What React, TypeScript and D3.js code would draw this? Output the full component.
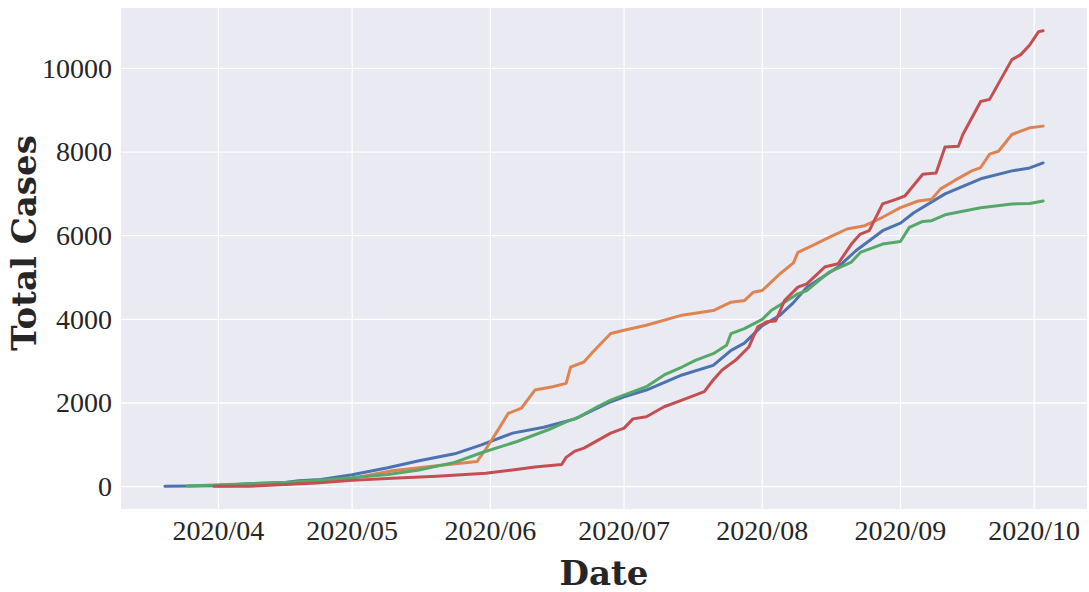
import * as d3 from "d3";

type Pt = [string, number];

// values, one [date, total] pair per point
const blue: Pt[] = [
  ["2020-03-20", 10], ["2020-03-31", 20], ["2020-04-08", 70], ["2020-04-16", 100],
  ["2020-04-19", 140], ["2020-04-24", 170], ["2020-05-01", 285], ["2020-05-09", 450],
  ["2020-05-16", 620], ["2020-05-24", 785], ["2020-05-30", 1000], ["2020-06-06", 1280],
  ["2020-06-13", 1420], ["2020-06-20", 1620], ["2020-06-28", 2030], ["2020-07-01", 2150],
  ["2020-07-06", 2310], ["2020-07-14", 2670], ["2020-07-21", 2900], ["2020-07-25", 3260],
  ["2020-07-28", 3430], ["2020-08-01", 3850], ["2020-08-05", 4100], ["2020-08-08", 4400],
  ["2020-08-11", 4770], ["2020-08-18", 5250], ["2020-08-22", 5640], ["2020-08-28", 6120],
  ["2020-09-01", 6300], ["2020-09-04", 6550], ["2020-09-11", 7000], ["2020-09-19", 7360],
  ["2020-09-26", 7550], ["2020-09-30", 7620], ["2020-10-03", 7740],
];

const orange: Pt[] = [
  ["2020-04-01", 10], ["2020-04-15", 60], ["2020-04-30", 180], ["2020-05-10", 380],
  ["2020-05-20", 500], ["2020-05-29", 600], ["2020-05-31", 900], ["2020-06-03", 1400],
  ["2020-06-05", 1750], ["2020-06-08", 1880], ["2020-06-11", 2310], ["2020-06-15", 2390],
  ["2020-06-18", 2470], ["2020-06-19", 2860], ["2020-06-22", 2980], ["2020-06-24", 3220],
  ["2020-06-28", 3660], ["2020-07-01", 3740], ["2020-07-06", 3860], ["2020-07-14", 4100],
  ["2020-07-21", 4210], ["2020-07-25", 4410], ["2020-07-28", 4450], ["2020-07-30", 4650],
  ["2020-08-01", 4690], ["2020-08-03", 4890], ["2020-08-05", 5090], ["2020-08-08", 5350],
  ["2020-08-09", 5600], ["2020-08-12", 5750], ["2020-08-16", 5960], ["2020-08-20", 6160],
  ["2020-08-24", 6240], ["2020-08-28", 6440], ["2020-09-01", 6670], ["2020-09-05", 6830],
  ["2020-09-08", 6870], ["2020-09-10", 7120], ["2020-09-13", 7310], ["2020-09-17", 7550],
  ["2020-09-19", 7630], ["2020-09-21", 7950], ["2020-09-23", 8020], ["2020-09-26", 8420],
  ["2020-09-30", 8580], ["2020-10-03", 8620],
];

const green: Pt[] = [
  ["2020-03-25", 15], ["2020-04-08", 70], ["2020-04-16", 100], ["2020-04-23", 150],
  ["2020-05-01", 210], ["2020-05-09", 290], ["2020-05-16", 400], ["2020-05-24", 580],
  ["2020-05-30", 810], ["2020-06-07", 1080], ["2020-06-14", 1360], ["2020-06-18", 1550],
  ["2020-06-21", 1670], ["2020-06-25", 1910], ["2020-06-28", 2070], ["2020-07-06", 2390],
  ["2020-07-10", 2670], ["2020-07-14", 2860], ["2020-07-17", 3020], ["2020-07-21", 3180],
  ["2020-07-24", 3380], ["2020-07-25", 3660], ["2020-07-28", 3780], ["2020-08-01", 4000],
  ["2020-08-03", 4210], ["2020-08-09", 4610], ["2020-08-11", 4690], ["2020-08-16", 5130],
  ["2020-08-21", 5370], ["2020-08-23", 5600], ["2020-08-28", 5800], ["2020-09-01", 5860],
  ["2020-09-03", 6200], ["2020-09-06", 6340], ["2020-09-08", 6360], ["2020-09-11", 6500],
  ["2020-09-19", 6670], ["2020-09-26", 6760], ["2020-09-30", 6770], ["2020-10-03", 6830],
];

const red: Pt[] = [
  ["2020-03-31", 10], ["2020-04-08", 10], ["2020-04-16", 50], ["2020-04-23", 90],
  ["2020-05-01", 150], ["2020-05-10", 200], ["2020-05-20", 250], ["2020-05-31", 320],
  ["2020-06-06", 400], ["2020-06-11", 470], ["2020-06-17", 530], ["2020-06-18", 700],
  ["2020-06-20", 850], ["2020-06-22", 920], ["2020-06-28", 1280], ["2020-07-01", 1400],
  ["2020-07-03", 1620], ["2020-07-06", 1670], ["2020-07-10", 1910], ["2020-07-14", 2070],
  ["2020-07-19", 2270], ["2020-07-21", 2550], ["2020-07-23", 2790], ["2020-07-26", 3020],
  ["2020-07-29", 3340], ["2020-07-31", 3820], ["2020-08-02", 3940], ["2020-08-04", 3960],
  ["2020-08-06", 4450], ["2020-08-09", 4770], ["2020-08-11", 4850], ["2020-08-15", 5250],
  ["2020-08-18", 5330], ["2020-08-21", 5800], ["2020-08-23", 6040], ["2020-08-25", 6120],
  ["2020-08-28", 6760], ["2020-08-31", 6870], ["2020-09-02", 6950], ["2020-09-06", 7470],
  ["2020-09-09", 7500], ["2020-09-11", 8120], ["2020-09-14", 8140], ["2020-09-15", 8420],
  ["2020-09-19", 9210], ["2020-09-21", 9260], ["2020-09-26", 10210], ["2020-09-28", 10330],
  ["2020-09-30", 10560], ["2020-10-02", 10880], ["2020-10-03", 10900],
];

const seriesColors = ["#4C72B0", "#DD8452", "#55A868", "#C44E52"];
const yTicks = [0, 2000, 4000, 6000, 8000, 10000];
const xTickDates = ["2020-04-01", "2020-05-01", "2020-06-01", "2020-07-01", "2020-08-01", "2020-09-01", "2020-10-01"];

const W = 1089;
const H = 592;
const margin = { top: 8, right: 2, bottom: 83, left: 121 };

const parse = d3.utcParse("%Y-%m-%d");
const fmt = d3.utcFormat("%Y/%m");

export default function App() {
  const all = [blue, orange, green, red];
  const innerW = W - margin.left - margin.right;
  const innerH = H - margin.top - margin.bottom;

  // matplotlib-style 5% margins
  const [t0, t1] = d3.extent(all.flat(), (d) => parse(d[0])!.getTime()) as [number, number];
  const [v0, v1] = d3.extent(all.flat(), (d) => d[1]) as [number, number];
  const padT = (t1 - t0) * 0.05;
  const padV = (v1 - v0) * 0.05;

  const x = d3.scaleUtc().domain([new Date(t0 - padT), new Date(t1 + padT)]).range([0, innerW]);
  const y = d3.scaleLinear().domain([v0 - padV, v1 + padV]).range([innerH, 0]);

  const line = d3
    .line<Pt>()
    .x((d) => x(parse(d[0])!))
    .y((d) => y(d[1]));

  const tickFont = "'Liberation Serif', 'Times New Roman', serif";
  const labelFont = "'DejaVu Serif', serif";

  return (
    <div style={{ position: "absolute", left: 0, top: 0 }}>
      <svg width={W} height={H} style={{ display: "block", background: "#fff" }}>
        <g transform={`translate(${margin.left},${margin.top})`}>
          <rect width={innerW} height={innerH} fill="#EAEAF2" />
          {yTicks.map((t) => (
            <line key={`gy${t}`} x1={0} x2={innerW} y1={y(t)} y2={y(t)} stroke="#fff" strokeWidth={1.3} />
          ))}
          {xTickDates.map((t) => (
            <line key={`gx${t}`} x1={x(parse(t)!)} x2={x(parse(t)!)} y1={0} y2={innerH} stroke="#fff" strokeWidth={1.3} />
          ))}
          {all.map((s, i) => (
            <path
              key={i}
              d={line(s) ?? ""}
              fill="none"
              stroke={seriesColors[i]}
              strokeWidth={3}
              strokeLinejoin="round"
              strokeLinecap="round"
            />
          ))}
          {yTicks.map((t) => (
            <text
              key={`ty${t}`}
              x={-9}
              y={y(t)}
              dy="0.33em"
              textAnchor="end"
              fontFamily={tickFont}
              fontSize={28}
              fill="#262626"
            >
              {t}
            </text>
          ))}
          {xTickDates.map((t) => (
            <text
              key={`tx${t}`}
              x={x(parse(t)!)}
              y={innerH + 31}
              textAnchor="middle"
              fontFamily={tickFont}
              fontSize={28}
              fill="#262626"
            >
              {fmt(parse(t)!)}
            </text>
          ))}
          <text
            x={innerW / 2}
            y={innerH + 76}
            textAnchor="middle"
            fontFamily={labelFont}
            fontWeight="bold"
            fontSize={34}
            fill="#262626"
          >
            Date
          </text>
          <text
            transform={`translate(${36 - margin.left},${243 - margin.top}) rotate(-90)`}
            textAnchor="middle"
            fontFamily={labelFont}
            fontWeight="bold"
            fontSize={34}
            fill="#262626"
          >
            Total Cases
          </text>
        </g>
      </svg>
    </div>
  );
}
